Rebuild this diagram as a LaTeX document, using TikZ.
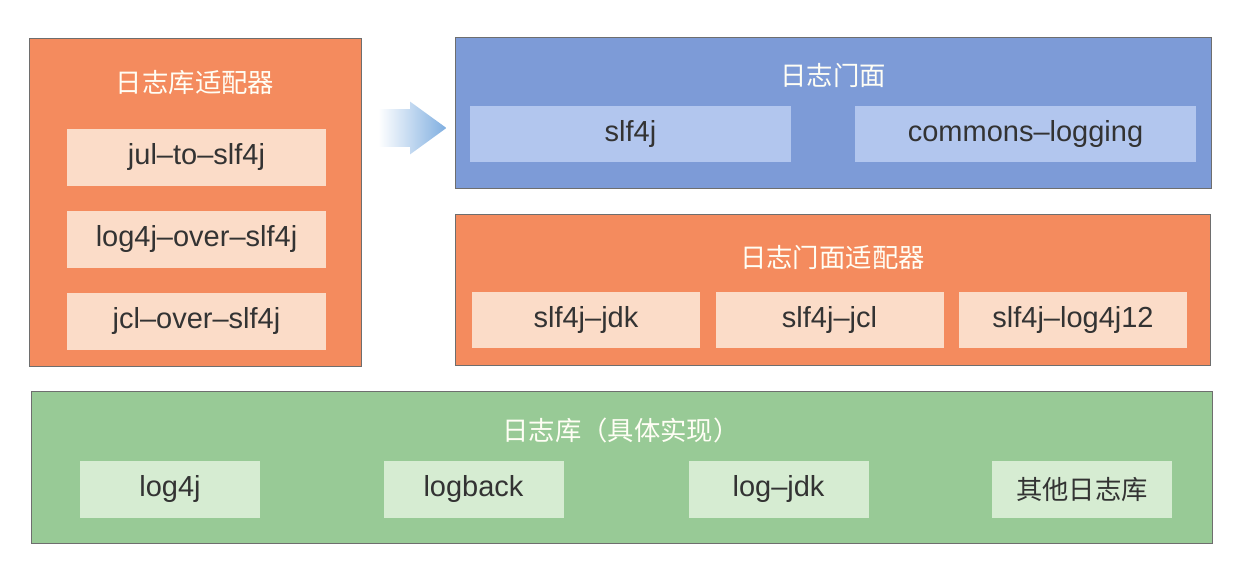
\documentclass[tikz,border=0pt]{standalone}
\usepackage{fontspec}
\setmainfont{Liberation Sans}
\newfontfamily\cjk{Noto Sans CJK SC}
\usetikzlibrary{arrows.meta, positioning, shapes.arrows}
\definecolor{corange}{HTML}{F48B5E}
\definecolor{corangel}{HTML}{FBDCC8}
\definecolor{cblue}{HTML}{7D9BD7}
\definecolor{cbluel}{HTML}{B2C6EE}
\definecolor{cgreen}{HTML}{98CA96}
\definecolor{cgreenl}{HTML}{D6ECD2}
\definecolor{cgrey}{HTML}{6E6E6E}
\definecolor{ctext}{HTML}{333333}
\definecolor{carrow}{HTML}{7FAEE0}
\tikzset{
  panel/.style={draw=cgrey, fill=#1, line width=0.8pt, anchor=north west, inner sep=0pt},
  item/.style={fill=#1, text=ctext, inner sep=0pt, minimum height=1.13cm, font=\fontsize{16.5}{19}\selectfont},
  title/.style={text=white!96!yellow, font=\cjk\fontsize{15}{18}\selectfont},
}
\begin{document}
\begin{tikzpicture}
  \useasboundingbox (0,0) rectangle (24.8,-11.3);
  % panels
  \node[panel=corange, minimum width=6.64cm, minimum height=6.56cm] (libadapt) at (0.58,-0.76) {};
  \node[panel=cblue, minimum width=15.12cm, minimum height=3.02cm] (facade) at (9.1,-0.74) {};
  \node[panel=corange, minimum width=15.1cm, minimum height=3.02cm] (facadeadapt) at (9.1,-4.28) {};
  \node[panel=cgreen, minimum width=23.62cm, minimum height=3.04cm] (impl) at (0.62,-7.82) {};
  % titles
  \node[title] (t1) at (3.9,-1.66) {日志库适配器};
  \node[title] (t2) at (16.66,-1.5) {日志门面};
  \node[title] (t3) at (16.65,-5.14) {日志门面适配器};
  \node[title] (t4) at (12.42,-8.6) {日志库（具体实现）};
  % library adapters
  \foreach \y/\name/\txt in {-3.15/julto/jul--to--slf4j, -4.79/logover/log4j--over--slf4j, -6.43/jclover/jcl--over--slf4j}
    \node[item=corangel, minimum width=5.18cm] (\name) at (3.93,\y) {\txt};
  % facades
  \node[item=cbluel, minimum width=6.42cm] (slf) at (12.61,-2.68) {slf4j};
  \node[item=cbluel, minimum width=6.82cm] (cl) at (20.51,-2.68) {commons--logging};
  % facade adapters
  \foreach \x/\name/\txt in {11.72/sjdk/slf4j--jdk, 16.59/sjcl/slf4j--jcl, 21.46/slog/slf4j--log4j12}
    \node[item=corangel, minimum width=4.56cm] (\name) at (\x,-6.4) {\txt};
  % implementations
  \node[item=cgreenl, minimum width=3.6cm] (l4j) at (3.4,-9.79) {log4j};
  \node[item=cgreenl, minimum width=3.6cm] (lb) at (9.47,-9.79) {logback};
  \node[item=cgreenl, minimum width=3.6cm] (ljdk) at (15.57,-9.79) {log--jdk};
  \node[item=cgreenl, minimum width=3.6cm, font=\cjk\fontsize{15}{18}\selectfont] (other) at (21.64,-9.79) {其他日志库};
  % block arrow
  \node[single arrow, left color=white, right color=carrow, inner xsep=0pt, inner ysep=0.37cm,
        minimum height=1.36cm, single arrow head extend=0.15cm, single arrow tip angle=72,
        anchor=tip] (flow) at (8.94,-2.56) {};
\end{tikzpicture}
\end{document}
